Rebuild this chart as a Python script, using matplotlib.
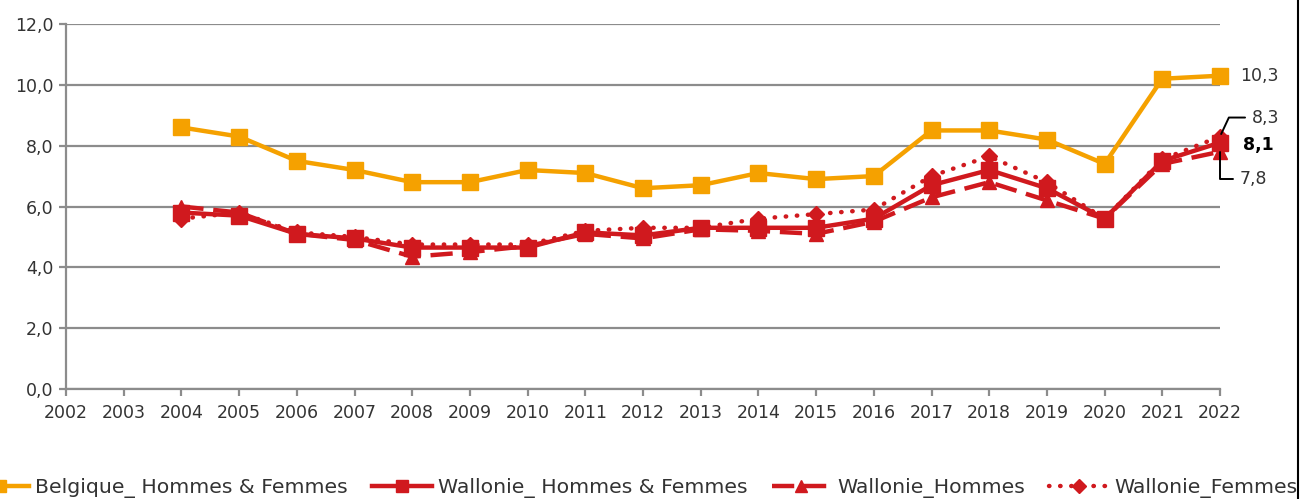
import matplotlib.pyplot as plt
from matplotlib.ticker import FuncFormatter, MultipleLocator
from matplotlib.lines import Line2D

years = list(range(2004, 2023))
belgique = [8.6, 8.3, 7.5, 7.2, 6.8, 6.8, 7.2, 7.1, 6.6, 6.7, 7.1, 6.9, 7.0, 8.5, 8.5, 8.2, 7.4, 10.2, 10.3]
wal_hf = [5.8, 5.7, 5.1, 4.95, 4.65, 4.65, 4.65, 5.15, 5.05, 5.3, 5.3, 5.3, 5.6, 6.7, 7.2, 6.6, 5.6, 7.5, 8.1]
wal_h = [6.0, 5.8, 5.1, 4.9, 4.35, 4.5, 4.7, 5.1, 4.95, 5.25, 5.2, 5.1, 5.5, 6.3, 6.8, 6.2, 5.6, 7.4, 7.8]
wal_f = [5.6, 5.8, 5.15, 5.0, 4.75, 4.75, 4.75, 5.2, 5.3, 5.3, 5.6, 5.75, 5.9, 7.0, 7.65, 6.8, 5.6, 7.55, 8.3]

labels = ["Belgique_ Hommes & Femmes", "Wallonie_ Hommes & Femmes",
          "Wallonie_Hommes", "Wallonie_Femmes"]

ORANGE = "#F5A100"
RED = "#D0191E"
GRID = "#8C8C8C"
TXT = "#333333"

plt.rcParams['font.family'] = ['DejaVu Sans']

fig = plt.figure(figsize=(13.1, 4.99), dpi=100)
ax = fig.add_axes([66 / 1310, 1 - 389 / 499, (1220 - 66) / 1310, (389 - 24) / 499])

DASH = (0, (5, 2.2))
DOT = (0, (0.1, 2.4))

ax.plot(years, belgique, color=ORANGE, lw=3.2, marker='s', ms=11, clip_on=False, zorder=3)
ax.plot(years, wal_hf, color=RED, lw=3.2, marker='s', ms=11, clip_on=False, zorder=4)
ax.plot(years, wal_h, color=RED, lw=3.2, ls=DASH, marker='^', ms=10, clip_on=False, zorder=4)
ax.plot(years, wal_f, color=RED, lw=3.2, ls=DOT, dash_capstyle='round', marker='D', ms=8,
        clip_on=False, zorder=4)

ax.set_xlim(2002, 2022)
ax.set_ylim(0, 12)
ax.set_xticks(range(2002, 2023))
ax.yaxis.set_major_locator(MultipleLocator(2))
ax.yaxis.set_major_formatter(FuncFormatter(lambda v, p: f"{v:.1f}".replace('.', ',')))
ax.grid(axis='y', color=GRID, lw=1.6)
ax.set_axisbelow(True)
for s in ['top', 'right']:
    ax.spines[s].set_visible(False)
for s in ['left', 'bottom']:
    ax.spines[s].set_color(GRID)
    ax.spines[s].set_linewidth(1.6)
ax.tick_params(axis='x', colors=GRID, labelcolor=TXT, labelsize=12.5, length=5, width=1.6, pad=6)
ax.tick_params(axis='y', colors=GRID, labelcolor=TXT, labelsize=12.5, length=5, width=1.6, pad=4)

# value labels at 2022
ax.annotate("10,3", (2022, belgique[-1]), xytext=(20, 0), textcoords='offset pixels',
            ha='left', va='center', fontsize=12.5, color=TXT, annotation_clip=False)
ax.annotate("8,1", (2022, wal_hf[-1]), xytext=(23, -2), textcoords='offset pixels',
            ha='left', va='center', fontsize=12.5, color='black', fontweight='bold',
            annotation_clip=False)
ax.annotate("8,3", (2022, wal_f[-1]), xytext=(32, 19), textcoords='offset pixels',
            ha='left', va='center', fontsize=12.5, color=TXT, annotation_clip=False,
            zorder=6,
            arrowprops=dict(arrowstyle='-', color='black', lw=1.4,
                            connectionstyle='angle,angleA=0,angleB=65,rad=0',
                            shrinkA=3, shrinkB=2))
ax.annotate("7,8", (2022, wal_h[-1]), xytext=(20, -27), textcoords='offset pixels',
            ha='left', va='center', fontsize=12.5, color=TXT, annotation_clip=False,
            zorder=6,
            arrowprops=dict(arrowstyle='-', color='black', lw=1.4,
                            connectionstyle='angle,angleA=0,angleB=90,rad=0',
                            shrinkA=3, shrinkB=0))

# legend
handles = [
    Line2D([], [], color=ORANGE, lw=3.2, marker='s', ms=8),
    Line2D([], [], color=RED, lw=3.2, marker='s', ms=8),
    Line2D([], [], color=RED, lw=3.2, ls=DASH, marker='^', ms=8),
    Line2D([], [], color=RED, lw=3.2, ls=DOT, dash_capstyle='round', marker='D', ms=7),
]
fig.legend(handles, labels, loc='center left', bbox_to_anchor=(-0.037, 1 - 488 / 499),
           ncol=4, frameon=False, fontsize=14.7, handlelength=2.9, handletextpad=0.3,
           columnspacing=1.2, labelcolor=TXT)

# right border line
fig.add_artist(Line2D([1298 / 1310, 1298 / 1310], [0, 1], color='black', lw=1.5))

fig.savefig("out.png", dpi=100)
